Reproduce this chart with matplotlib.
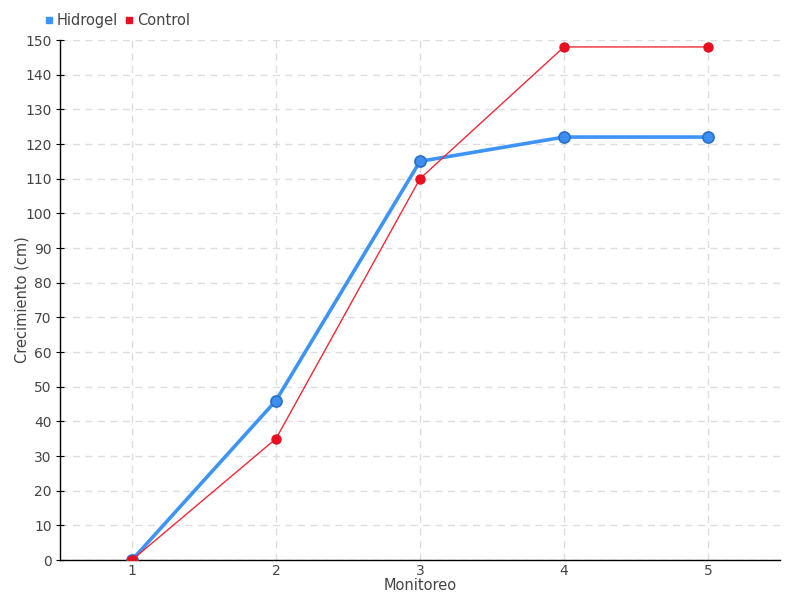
import matplotlib
matplotlib.use("Agg")
import matplotlib.pyplot as plt
from matplotlib.lines import Line2D

monitoreo = [1, 2, 3, 4, 5]
hidrogel = [0, 46, 115, 122, 122]
control = [0, 35, 110, 148, 148]
yticks = list(range(0, 151, 10))

plt.rcParams['font.family'] = ['DejaVu Sans']
txt = '#444444'

fig = plt.figure(figsize=(8, 6), dpi=100)
ax = fig.add_axes([60/800, 40/600, 720/800, 520/600])

ax.plot(monitoreo, hidrogel, color='#3d94f6', lw=2.6, marker='o', ms=8,
        mfc='#3d8ef0', mec='#2a6fc9', mew=1.2, zorder=3, label='Hidrogel')
ax.plot(monitoreo, control, color='#f0293a', lw=1, marker='o', ms=6.5,
        mfc='#e8101e', mec='#e8101e', zorder=4, label='Control')

ax.set_xlim(0.5, 5.5)
ax.set_ylim(0, 150)
ax.set_xticks(monitoreo)
ax.set_yticks(yticks)
ax.grid(True, color='#dddddd', ls=(0, (5, 4)), lw=1)
ax.set_axisbelow(True)
for s in ['top', 'right']:
    ax.spines[s].set_visible(False)
for s in ['left', 'bottom']:
    ax.spines[s].set_color('black')
    ax.spines[s].set_linewidth(1)
ax.tick_params(axis='y', direction='inout', length=6, colors='black', labelcolor=txt, labelsize=10, pad=3)
ax.tick_params(axis='x', length=0, colors='black', labelcolor=txt, labelsize=10, pad=3)

ax.set_xlabel('Monitoreo', color=txt, fontsize=10.5)
ax.xaxis.set_label_coords(0.5, -18/520)
ax.set_ylabel('Crecimiento (cm)', color=txt, fontsize=10.5)
ax.yaxis.set_label_coords(-30/720, 0.5)

handles = [Line2D([], [], ls='none', marker='s', ms=5, color='#3d94f6'),
           Line2D([], [], ls='none', marker='s', ms=5, color='#e8101e')]
fig.legend(handles, ['Hidrogel', 'Control'], loc='upper left',
           bbox_to_anchor=(45/800, 1 - 13/600), frameon=False, ncol=2,
           handlelength=0.5, handletextpad=0.3, columnspacing=0.5,
           fontsize=10.5, labelcolor=txt, borderaxespad=0, borderpad=0)

fig.savefig('out.png', dpi=100)
